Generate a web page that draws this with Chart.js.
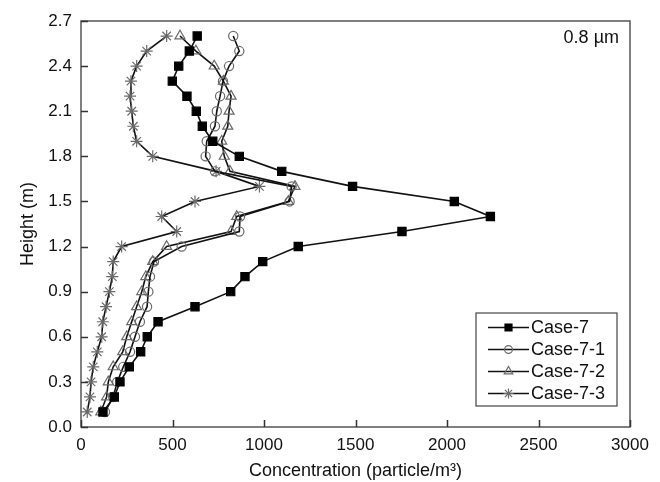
<!DOCTYPE html>
<html>
<head>
<meta charset="utf-8">
<title>Concentration profiles</title>
<script src="https://cdn.jsdelivr.net/npm/chart.js@4"></script>
<style>
  html, body { margin: 0; padding: 0; background: #fff; }
  #wrap { width: 660px; height: 482px; }
</style>
</head>
<body>
<div id="wrap"><canvas id="profile-chart" width="660" height="482"></canvas></div>
<script>
// Heights (m) where the concentration was sampled
const heights = [0.1, 0.2, 0.3, 0.4, 0.5, 0.6, 0.7, 0.8, 0.9, 1.0, 1.1, 1.2, 1.3,
  1.4, 1.5, 1.6, 1.7, 1.8, 1.9, 2.0, 2.1, 2.2, 2.3, 2.4, 2.5, 2.6];

// Concentration (particle/m3), one value per height
const case7 = [120, 182, 213, 264, 326, 362, 421, 623, 818, 896, 993, 1187, 1754,
  2237, 2040, 1484, 1097, 865, 720, 663, 630, 579, 499, 534, 592, 635];
const case71 = [131, 176, 198, 231, 268, 295, 322, 361, 368, 377, 399, 550, 865,
  869, 1140, 1151, 732, 681, 687, 732, 742, 760, 776, 809, 865, 832];
const case72 = [108, 140, 149, 176, 228, 250, 277, 304, 332, 354, 392, 468, 820,
  851, 1133, 1169, 814, 783, 769, 802, 809, 820, 778, 728, 628, 541];
const case73 = [34, 49, 55, 67, 89, 113, 119, 137, 155, 171, 176, 222, 523,
  441, 623, 975, 738, 392, 304, 286, 277, 268, 273, 304, 359, 468];

const seriesNames = ["Case-7", "Case-7-1", "Case-7-2", "Case-7-3"];
const xTicks = [0, 500, 1000, 1500, 2000, 2500, 3000];
const yTicks = [0.0, 0.3, 0.6, 0.9, 1.2, 1.5, 1.8, 2.1, 2.4, 2.7];
const sizeLabel = "0.8 \u00b5m";

const FONT = "'Liberation Sans', Arial, Helvetica, sans-serif";
const INK = "#111";
const GREY = "#6a6a6a";

function toPoints(values) {
  return heights.map((h, i) => ({ x: values[i], y: h }));
}

const styles = [
  { pointStyle: "rect", pointRadius: 5.8, pointBackgroundColor: "#000", pointBorderColor: "#000" },
  { pointStyle: "circle", pointRadius: 4.6, pointBackgroundColor: "rgba(0,0,0,0)", pointBorderColor: GREY },
  { pointStyle: "triangle", pointRadius: 5.8, pointBackgroundColor: "rgba(0,0,0,0)", pointBorderColor: GREY },
  { pointStyle: "star", pointRadius: 6, pointBackgroundColor: "rgba(0,0,0,0)", pointBorderColor: GREY },
];

const datasets = [case7, case71, case72, case73].map((vals, i) => Object.assign({
  label: seriesNames[i],
  data: toPoints(vals),
  showLine: true,
  borderColor: "#111",
  borderWidth: 1.6,
  pointBorderWidth: 1.2,
  tension: 0,
}, styles[i]));

// frame, inward tick marks, size label and the boxed legend
const decorations = {
  id: "decorations",
  afterDraw(chart) {
    const { ctx, chartArea: a } = chart;
    const xs = chart.scales.x, ys = chart.scales.y;
    ctx.save();
    ctx.strokeStyle = "#555";
    ctx.lineWidth = 1.5;
    ctx.strokeRect(a.left, a.top, a.right - a.left, a.bottom - a.top);

    ctx.strokeStyle = "#333";
    ctx.beginPath();
    xTicks.forEach((v) => {
      const px = Math.round(xs.getPixelForValue(v)) + 0.5;
      ctx.moveTo(px, a.bottom);
      ctx.lineTo(px, a.bottom - 7);
    });
    yTicks.forEach((v) => {
      const py = Math.round(ys.getPixelForValue(v)) + 0.5;
      ctx.moveTo(a.left, py);
      ctx.lineTo(a.left + 7, py);
    });
    ctx.stroke();

    ctx.fillStyle = INK;
    ctx.font = "18px " + FONT;
    ctx.textAlign = "right";
    ctx.textBaseline = "middle";
    ctx.fillText(sizeLabel, a.right - 11, a.top + 17);

    // legend box
    const box = { left: a.right - 154, top: a.bottom - 114, w: 141, h: 93 };
    ctx.lineWidth = 1.2;
    ctx.strokeStyle = "#444";
    ctx.strokeRect(box.left, box.top, box.w, box.h);
    ctx.textAlign = "left";
    chart.data.datasets.forEach((ds, i) => {
      const y = box.top + 14.5 + i * 22;
      const x0 = box.left + 12, x1 = box.left + 53;
      ctx.strokeStyle = ds.borderColor;
      ctx.lineWidth = ds.borderWidth;
      ctx.beginPath();
      ctx.moveTo(x0, y);
      ctx.lineTo(x1, y);
      ctx.stroke();
      ctx.fillStyle = ds.pointBackgroundColor;
      ctx.strokeStyle = ds.pointBorderColor;
      ctx.lineWidth = ds.pointBorderWidth;
      Chart.helpers.drawPoint(ctx, {
        pointStyle: ds.pointStyle,
        radius: ds.pointRadius * 0.85,
        borderWidth: ds.pointBorderWidth,
        rotation: 0,
      }, (x0 + x1) / 2, y);
      ctx.fillStyle = INK;
      ctx.fillText(ds.label, x1 + 2, y + 1);
    });
    ctx.restore();
  },
};

new Chart(document.getElementById("profile-chart"), {
  type: "scatter",
  data: { datasets },
  options: {
    responsive: false,
    animation: false,
    layout: { padding: { top: 21, right: 30, left: 0, bottom: 0 } },
    plugins: { legend: { display: false }, tooltip: { enabled: false } },
    scales: {
      x: {
        type: "linear",
        min: 0,
        max: 3000,
        afterFit(scale) { scale.height = 55; },
        afterBuildTicks(scale) { scale.ticks = xTicks.map((v) => ({ value: v })); },
        grid: { display: false, drawTicks: false },
        border: { display: false },
        ticks: {
          color: INK,
          padding: 8,
          font: { family: FONT, size: 17 },
          callback: (v) => String(v),
        },
        title: {
          display: true,
          text: "Concentration (particle/m\u00b3)",
          color: INK,
          padding: { top: 0, bottom: 0 },
          font: { family: FONT, size: 18 },
        },
      },
      y: {
        type: "linear",
        min: 0,
        max: 2.7,
        afterFit(scale) { scale.width = 81; },
        afterBuildTicks(scale) { scale.ticks = yTicks.map((v) => ({ value: v })); },
        grid: { display: false, drawTicks: false },
        border: { display: false },
        ticks: {
          color: INK,
          padding: 9,
          font: { family: FONT, size: 17 },
          callback: (v) => Number(v).toFixed(1),
        },
        title: {
          display: true,
          text: "Height (m)",
          color: INK,
          padding: { top: 17, bottom: 0 },
          font: { family: FONT, size: 18 },
        },
      },
    },
  },
  plugins: [decorations],
});
</script>
</body>
</html>
